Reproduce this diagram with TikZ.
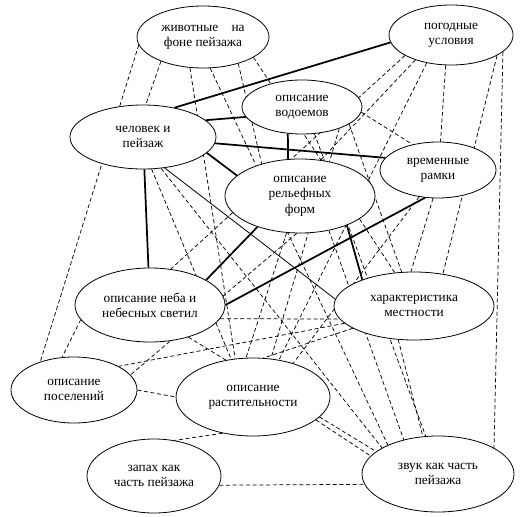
\documentclass[tikz,border=0pt]{standalone}
\usepackage{fontspec}
\setmainfont{Liberation Serif}
\usetikzlibrary{shapes.geometric,backgrounds}
\tikzset{
  oval/.style={ellipse,draw,fill=white,line width=0.6pt,inner sep=0pt,align=center,font=\fontsize{10}{11.5}\selectfont},
  link/.style={dash pattern=on 3pt off 2pt,line width=0.55pt},
  tie/.style={line width=1.3pt},
}
\begin{document}
\begin{tikzpicture}[x=0.75pt,y=0.75pt,yscale=-1,xscale=1]
\useasboundingbox (0,0) rectangle (530,516);
% Ovals
\node [oval,minimum width=99pt,minimum height=46.5pt] (an) at (203,37) {животные\quad на\\фоне пейзажа};
\node [oval,minimum width=93pt,minimum height=45pt] (we) at (451,35) {погодные\\условия};
\node [oval,minimum width=109.5pt,minimum height=48pt] (hu) at (143,137) {человек и\\пейзаж};
\node [oval,minimum width=90pt,minimum height=40.5pt] (wa) at (302,107) {описание\\водоемов};
\node [oval,minimum width=112.5pt,minimum height=55.5pt] (re) at (300,196) {описание\\рельефных\\форм};
\node [oval,minimum width=87pt,minimum height=42pt] (ti) at (438,170) {временные\\рамки};
\node [oval,minimum width=112.5pt,minimum height=55.5pt] (sk) at (150,305) {описание неба и\\небесных светил};
\node [oval,minimum width=120pt,minimum height=51pt] (ch) at (414,306) {характеристика\\местности};
\node [oval,minimum width=94.5pt,minimum height=49.5pt] (se) at (74,390) {описание\\поселений};
\node [oval,minimum width=115.5pt,minimum height=58.5pt] (ve) at (253,397) {описание\\растительности};
\node [oval,minimum width=100.5pt,minimum height=55.5pt] (sm) at (154,476) {запах как\\часть пейзажа};
\node [oval,minimum width=114pt,minimum height=57pt] (so) at (438,474) {звук как часть\\пейзажа};

\begin{scope}[on background layer]
% Strong ties
\draw [tie] (hu.43) -- (we.187);
\draw [tie] (hu.15) -- (wa.190);
\draw [tie] (hu.-5) -- (ti.167);
\draw [tie] (hu.-14) -- (re.162);
\draw [tie] (hu) -- (sk);
\draw [tie] (wa.-118) -- (re.108);
\draw [tie] (sk.24) -- (re.-144);
\draw [tie] (sk.0) -- (ti.-115);
\draw [tie] (re.-32) -- (ch.153);
\draw [line width=0.6pt] (hu.-55) -- (ch.175);
% Weak ties
\foreach \a/\b in {an.187/se.140,an.-150/hu.85,an.-113/ve.115,an.-77/so.150,an.-22/ch.120,an.-37/re.140,
                   we.-156/sk.60,we.-145/re.60,we.-131/ve.55,we.-100/ti.85,we.-24/ch.48,we.-18/so.25,
                   wa.-5/ti.135,wa.-20/ch.110,wa.-65/so.108,wa.-30/ve.65,
                   hu.-60/so.155,hu.-75/ve.120,
                   re.-50/so.135,re.-95/se.15,re.-110/ve.100,
                   ti.-100/ch.95,ti.-125/ve.40,
                   sk.-11/ch.190,sk.-40/so.160,sk.192/se.110,
                   ch.194/se.28,ch.200/ve.75,ch.-115/so.112,
                   se.0/ve.180,ve.-130/sm.60,ve.-20/so.165,sm.-8/so.188}
  \draw [link] (\a) -- (\b);
\end{scope}
\end{tikzpicture}
\end{document}
